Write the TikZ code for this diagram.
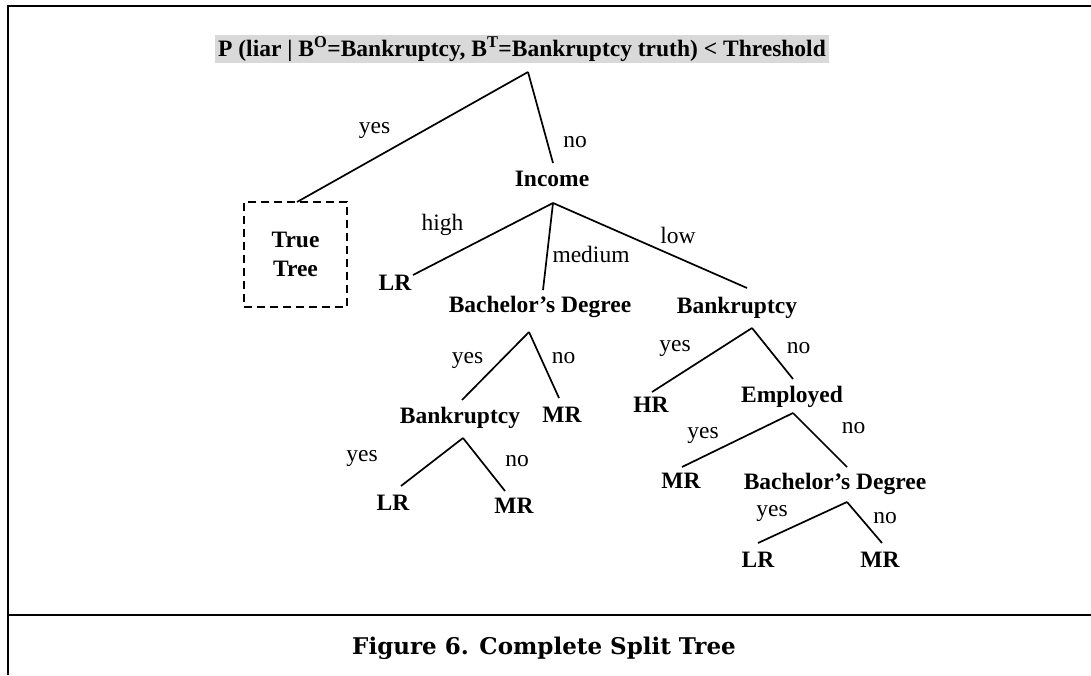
\documentclass[tikz,border=0pt]{standalone}
\usepackage{fontspec}
\setmainfont{Liberation Serif}
\newfontfamily\captionfont{DejaVu Serif}
\definecolor{titlegray}{RGB}{217,217,217}

\begin{document}
\begin{tikzpicture}[x=1pt,y=-1pt,
  every node/.style={inner sep=0pt},
  tnode/.style={anchor=base, font=\fontsize{23.5}{28}\selectfont\bfseries},
  lbl/.style={anchor=base, font=\fontsize{23.5}{28}\selectfont},
  branch/.style={line width=1.7pt},
  framerule/.style={line width=2.6pt}]

\useasboundingbox (0,0) rectangle (1091,675);

% outer frame and caption rule
\draw[framerule] (1091,6) -- (8,6) -- (8,675);
\draw[framerule] (8,615) -- (1091,615);

% root question
\node[fill=titlegray, minimum height=28pt, inner xsep=3pt,
      font=\fontsize{23.5}{28}\selectfont\bfseries] (title) at (522,49)
  {P (liar | B\textsuperscript{O}=Bankruptcy, B\textsuperscript{T}=Bankruptcy truth) < Threshold};

% dashed box for the true tree
\node[draw, dash pattern=on 8pt off 5pt, line width=1.6pt,
      minimum width=103pt, minimum height=105pt, align=center,
      font=\fontsize{23.5}{29}\selectfont\bfseries] (tt) at (295.5,254.5) {True\\Tree};

% tree nodes
\node[tnode] (inc) at (552,186)   {Income};
\node[tnode] (lr1) at (395,290.5) {LR};
\node[tnode] (bd1) at (540,312.5) {Bachelor’s Degree};
\node[tnode] (bk1) at (737,313.5) {Bankruptcy};
\node[tnode] (bk2) at (460,423.5) {Bankruptcy};
\node[tnode] (mr1) at (562,422.5) {MR};
\node[tnode] (lr2) at (393,510.5) {LR};
\node[tnode] (mr2) at (514,513.5) {MR};
\node[tnode] (hr)  at (651,412.5) {HR};
\node[tnode] (emp) at (792,402.5) {Employed};
\node[tnode] (mr3) at (681,488.5) {MR};
\node[tnode] (bd2) at (835,489.5) {Bachelor’s Degree};
\node[tnode] (lr3) at (758,567.5) {LR};
\node[tnode] (mr4) at (880,567.5) {MR};

% branch end points
\coordinate (title-out) at (528,72);
\coordinate (tt-in)     at (297,202);
\coordinate (inc-in)    at (553,163);
\coordinate (inc-out)   at (553,203);
\coordinate (lr1-in)    at (413,275);
\coordinate (bd1-in)    at (543,290);
\coordinate (bd1-out)   at (529,332);
\coordinate (bk1-in)    at (747,288);
\coordinate (bk1-out)   at (752,328);
\coordinate (bk2-in)    at (462,400);
\coordinate (bk2-out)   at (463,438);
\coordinate (mr1-in)    at (559,398);
\coordinate (lr2-in)    at (401,486);
\coordinate (mr2-in)    at (505,491);
\coordinate (hr-in)     at (652,392);
\coordinate (emp-in)    at (793,379);
\coordinate (emp-out)   at (793,413);
\coordinate (mr3-in)    at (682,467);
\coordinate (bd2-in)    at (847,467);
\coordinate (bd2-out)   at (847,502);
\coordinate (lr3-in)    at (758,543);
\coordinate (mr4-in)    at (882,543);

% branches
\draw[branch] (title-out) -- (tt-in);
\draw[branch] (title-out) -- (inc-in);
\draw[branch] (inc-out) -- (lr1-in);
\draw[branch] (inc-out) -- (bd1-in);
\draw[branch] (inc-out) -- (bk1-in);
\draw[branch] (bd1-out) -- (bk2-in);
\draw[branch] (bd1-out) -- (mr1-in);
\draw[branch] (bk2-out) -- (lr2-in);
\draw[branch] (bk2-out) -- (mr2-in);
\draw[branch] (bk1-out) -- (hr-in);
\draw[branch] (bk1-out) -- (emp-in);
\draw[branch] (emp-out) -- (mr3-in);
\draw[branch] (emp-out) -- (bd2-in);
\draw[branch] (bd2-out) -- (lr3-in);
\draw[branch] (bd2-out) -- (mr4-in);

% branch labels
\node[lbl] (l-yes0) at (374.5,133) {yes};
\node[lbl] (l-no0)  at (575,147)   {no};
\node[lbl] (l-high) at (442.5,230) {high};
\node[lbl] (l-med)  at (591,262)   {medium};
\node[lbl] (l-low)  at (678,243)   {low};
\node[lbl] (l-yes1) at (467.5,363) {yes};
\node[lbl] (l-no1)  at (563.5,363) {no};
\node[lbl] (l-yes2) at (362,461)   {yes};
\node[lbl] (l-no2)  at (517,466)   {no};
\node[lbl] (l-yes3) at (675,351)   {yes};
\node[lbl] (l-no3)  at (798.5,353) {no};
\node[lbl] (l-yes4) at (703,438)   {yes};
\node[lbl] (l-no4)  at (853.5,433) {no};
\node[lbl] (l-yes5) at (772,516)   {yes};
\node[lbl] (l-no5)  at (885,523)   {no};

% caption
\node[font=\fontsize{23}{27}\captionfont\bfseries] (cap) at (544,648)
  {Figure 6. Complete Split Tree};
\end{tikzpicture}
\end{document}
